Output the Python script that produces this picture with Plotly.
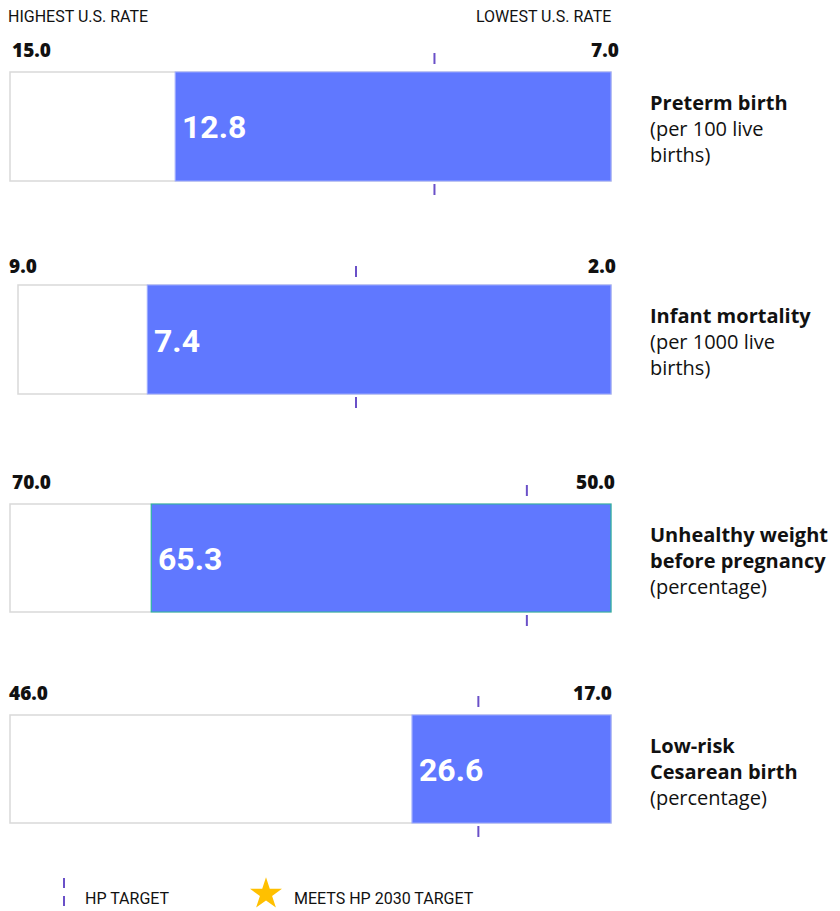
import plotly.graph_objects as go

# ---------------- data ----------------
metric_titles = ["Preterm birth", "Infant mortality", "Unhealthy weight<br>before pregnancy", "Low-risk<br>Cesarean birth"]
metric_units = ["(per 100 live<br>births)", "(per 1000 live<br>births)", "(percentage)", "(percentage)"]
highest_rate = [15.0, 9.0, 70.0, 46.0]
lowest_rate = [7.0, 2.0, 50.0, 17.0]
us_values = [12.8, 7.4, 65.3, 26.6]
hp_targets = [9.35, 4.97, 52.8, 23.4]
legend_labels = ["HP TARGET", "MEETS HP 2030 TARGET"]

# ---------------- style / layout ----------------
OFF = 8                      # page body margin
W, H = 840 - OFF, 911 - OFF  # figure size
BLUE = "#6078FF"
GREY = "#d9d9d9"
PURPLE = "#6a50c8"
GOLD = "#FFC000"
box_left = [10, 18, 10, 10]
box_right = 611
box_top = [72, 285, 504, 715]
box_bot = [181, 394, 612, 823]
blue_line = ["#9aa8ff", "#9aa8ff", "#2bb5a0", "#9aa8ff"]
hi_label_x = [10, 7, 10, 7]
lo_label_x = [621, 618, 617, 614]
range_label_y = [50, 266, 482, 693]
PAD = 3
PADL = 2

def px(x):
    return (x - OFF) / W

def py(y):
    return 1 - (y - OFF) / H

fig = go.Figure()
layout_axes = {}
shapes = []
annotations = []

for i in range(4):
    sfx = "" if i == 0 else str(i + 1)
    hi, lo, v, t = highest_rate[i], lowest_rate[i], us_values[i], hp_targets[i]
    span_px = box_right - 10
    per_px = (hi - lo) / span_px
    # x axis: reversed (highest on left)
    layout_axes["xaxis" + sfx] = dict(
        domain=[max(0.0, px(10 - PADL)), px(box_right + PAD)],
        range=[hi + PADL * per_px, lo - PAD * per_px], visible=False, fixedrange=True,
        anchor="y" + sfx,
    )
    T, B = box_top[i], box_bot[i]
    hgt = B - T
    layout_axes["yaxis" + sfx] = dict(
        domain=[py(B + PAD), py(T - PAD)],
        range=[-PAD / hgt, 1 + PAD / hgt], visible=False, fixedrange=True,
        anchor="x" + sfx,
    )
    # white full-range box
    start = hi - (box_left[i] - 10) * per_px
    fig.add_trace(go.Bar(
        orientation="h", y=[0.5], x=[lo - start], base=[start], width=1,
        marker=dict(color="white", line=dict(color=GREY, width=1.5)),
        xaxis="x" + sfx, yaxis="y" + sfx, hoverinfo="skip", showlegend=False,
    ))
    # blue value bar
    fig.add_trace(go.Bar(
        orientation="h", y=[0.5], x=[lo - v], base=[v], width=1,
        marker=dict(color=BLUE, line=dict(color=blue_line[i], width=1.2)),
        xaxis="x" + sfx, yaxis="y" + sfx, hoverinfo="skip", showlegend=False,
    ))
    # HP target ticks above/below
    for (a, b) in [(T - 19, T - 8), (B + 3, B + 14)]:
        shapes.append(dict(type="line", xref="x" + sfx, yref="paper",
                           x0=t, x1=t, y0=py(a), y1=py(b),
                           line=dict(color=PURPLE, width=2)))
    # value label inside bar
    annotations.append(dict(
        xref="x" + sfx, yref="y" + sfx, x=v, y=0.5, xanchor="left", yanchor="middle",
        xshift=5, yshift=-1, showarrow=False,
        text=f"<b>{v:.1f}</b>",
        font=dict(family="Roboto", size=32, color="white", weight=900),
    ))
    # range labels
    annotations.append(dict(
        xref="paper", yref="paper", x=px(hi_label_x[i]), y=py(range_label_y[i]),
        xanchor="left", yanchor="middle", showarrow=False,
        text=f"{hi:.1f}", font=dict(family="Open Sans", size=19, color="#111", weight=800),
    ))
    annotations.append(dict(
        xref="paper", yref="paper", x=px(lo_label_x[i]), y=py(range_label_y[i]),
        xanchor="right", yanchor="middle", showarrow=False,
        text=f"{lo:.1f}", font=dict(family="Open Sans", size=19, color="#111", weight=800),
    ))
    # right-hand metric label
    annotations.append(dict(
        xref="paper", yref="paper", x=px(648), y=py((T + B) / 2 + 2),
        xanchor="left", yanchor="middle", align="left", showarrow=False,
        text=f"<b>{metric_titles[i]}</b><br>{metric_units[i]}",
        font=dict(family="Open Sans", size=20, color="#111"),
    ))

# header labels
annotations.append(dict(xref="paper", yref="paper", x=px(6), y=py(17), xanchor="left", yanchor="middle",
                        showarrow=False, text="HIGHEST U.S. RATE",
                        font=dict(family="Roboto", size=16, color="#111")))
annotations.append(dict(xref="paper", yref="paper", x=px(613), y=py(17), xanchor="right", yanchor="middle",
                        showarrow=False, text="LOWEST U.S. RATE",
                        font=dict(family="Roboto", size=16, color="#111")))

# legend: HP target tick
for (a, b) in [(878, 888), (896, 906)]:
    shapes.append(dict(type="line", xref="paper", yref="paper", x0=px(64), x1=px(64),
                       y0=py(a), y1=py(b), line=dict(color=PURPLE, width=2)))
annotations.append(dict(xref="paper", yref="paper", x=px(83), y=py(898), xanchor="left", yanchor="middle",
                        showarrow=False, text=legend_labels[0],
                        font=dict(family="Roboto", size=16, color="#111")))
# legend: star marker on an overlay axis spanning the whole figure (0..1 paper-like)
layout_axes["xaxis5"] = dict(domain=[0, 1], range=[0, 1], visible=False, fixedrange=True, anchor="y5")
layout_axes["yaxis5"] = dict(domain=[0, 1], range=[0, 1], visible=False, fixedrange=True, anchor="x5")
fig.add_trace(go.Scatter(
    x=[px(266)], y=[py(894)], mode="markers", xaxis="x5", yaxis="y5",
    marker=dict(symbol="star", size=24, color=GOLD, line=dict(width=0)),
    hoverinfo="skip", showlegend=False, cliponaxis=False,
))
annotations.append(dict(xref="paper", yref="paper", x=px(292), y=py(898), xanchor="left", yanchor="middle",
                        showarrow=False, text=legend_labels[1],
                        font=dict(family="Roboto", size=16, color="#111")))

fig.update_layout(
    width=W, height=H, margin=dict(l=0, r=0, t=0, b=0),
    paper_bgcolor="white", plot_bgcolor="rgba(0,0,0,0)",
    barmode="overlay", showlegend=False,
    shapes=shapes, annotations=annotations,
    **layout_axes,
)

fig.write_html("out.html", config={"displayModeBar": False})
